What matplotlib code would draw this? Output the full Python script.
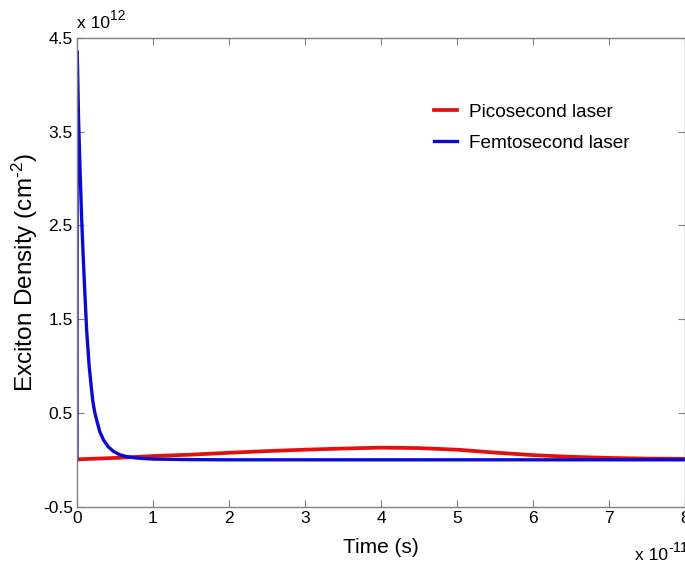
import matplotlib
matplotlib.use('Agg')
from matplotlib import pyplot as plt

plt.rcParams['font.family'] = ['Liberation Sans', 'DejaVu Sans']
plt.rcParams['mathtext.fontset'] = 'custom'
plt.rcParams['mathtext.rm'] = 'Liberation Sans'
plt.rcParams['mathtext.it'] = 'Liberation Sans'

# time in units of 1e-11 s, density in units of 1e12 cm^-2
t_ps = [0, 0.5, 1, 1.5, 2, 2.5, 3, 3.5, 4, 4.5, 5, 5.5, 6, 6.5, 7, 7.5, 8]
n_ps = [0.005, 0.02, 0.04, 0.055, 0.075, 0.093, 0.108, 0.12, 0.13, 0.125,
        0.108, 0.077, 0.05, 0.032, 0.02, 0.013, 0.01]

t_fs = [0, 0.003, 0.02, 0.04, 0.06, 0.08, 0.105, 0.127, 0.16, 0.185, 0.206,
        0.23, 0.26, 0.3, 0.35, 0.41, 0.48, 0.56, 0.65, 0.75, 0.87, 1.0, 1.5,
        2, 4, 6, 8]
n_fs = [0, 4.35, 3.65, 3.1, 2.6, 2.2, 1.75, 1.38, 1.0, 0.8, 0.64,
        0.52, 0.42, 0.3, 0.21, 0.14, 0.09, 0.055, 0.035, 0.022, 0.014, 0.008, 0.002,
        0, 0, 0, 0]

xticks = [0, 1, 2, 3, 4, 5, 6, 7, 8]
yticks = [-0.5, 0.5, 1.5, 2.5, 3.5, 4.5]

fig = plt.figure(figsize=(6.85, 5.68), dpi=100)
ax = fig.add_axes([0.1124, 0.1079, 0.8876, 0.8257])

ax.plot(t_ps, n_ps, color='#e41010', lw=2.7, label='Picosecond laser')
ax.plot(t_fs, n_fs, color='#0a0ad2', lw=2.4, label='Femtosecond laser')

ax.set_xlim(0, 8)
ax.set_ylim(-0.5, 4.5)
ax.set_xticks(xticks)
ax.set_xticklabels([str(v) for v in xticks])
ax.set_yticks(yticks)
ax.set_yticklabels([str(v) for v in yticks])

for s in ax.spines.values():
    s.set_color('#808080')
    s.set_linewidth(1.0)
ax.tick_params(direction='in', length=5, color='#808080', labelsize=12.5,
               top=True, right=True, pad=3)

ax.set_xlabel('Time (s)', fontsize=15, labelpad=9)
ax.set_ylabel('Exciton Density (cm$^{\u20102}$)', fontsize=17.5, labelpad=2)

# exponent labels, matlab style
t1 = fig.text(0.113, 0.945, 'x 10', fontsize=12.5, ha='left', va='bottom')
ax.annotate('12', xy=(1, 0.55), xycoords=t1, fontsize=10, ha='left', va='bottom',
            annotation_clip=False)
t2 = fig.text(0.927, 0.008, 'x 10', fontsize=12.5, ha='left', va='bottom')
ax.annotate('-11', xy=(1, 0.55), xycoords=t2, fontsize=10.5, ha='left', va='bottom',
            annotation_clip=False)

ax.legend(loc='upper left', bbox_to_anchor=(0.619, 0.835), bbox_transform=fig.transFigure,
          frameon=False, fontsize=13.7, handlelength=1.25, handletextpad=0.6,
          labelspacing=0.75, borderpad=0)

fig.savefig('out.png', dpi=100)
